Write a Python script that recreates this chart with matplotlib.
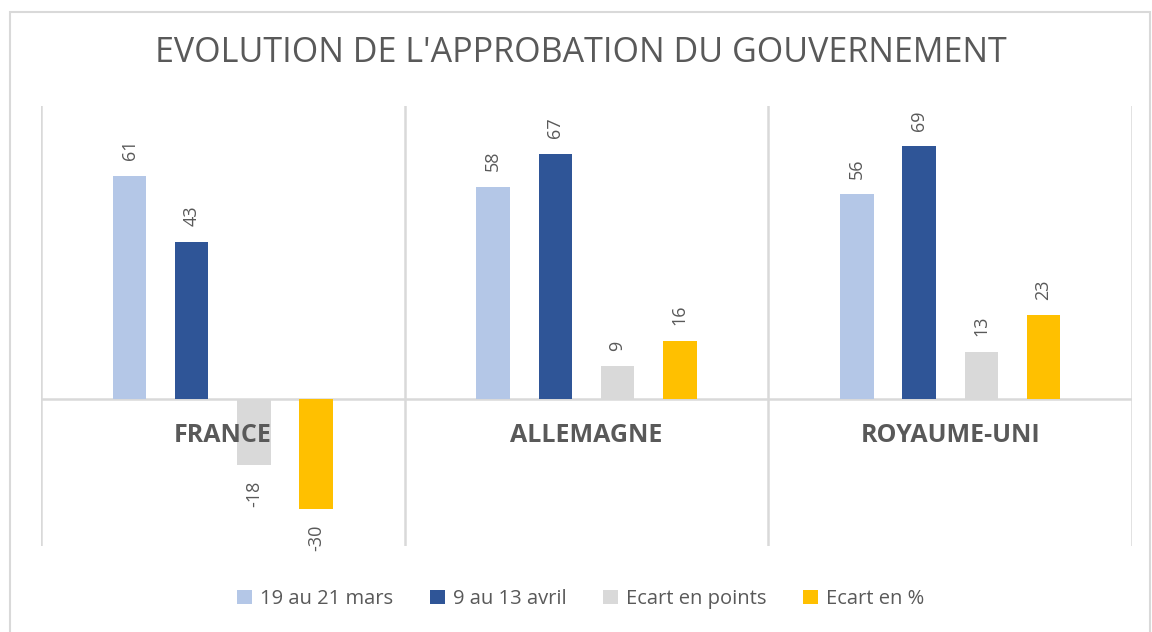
import matplotlib
matplotlib.use("Agg")
import matplotlib.pyplot as plt
from matplotlib.patches import Patch, Rectangle
import numpy as np

categories = ["FRANCE", "ALLEMAGNE", "ROYAUME-UNI"]
series_names = ["19 au 21 mars", "9 au 13 avril", "Ecart en points", "Ecart en %"]
mars = [61, 58, 56]
avril = [43, 67, 69]
ecart_points = [-18, 9, 13]
ecart_pct = [-30, 16, 23]
colors = ["#B4C7E7", "#2F5597", "#D9D9D9", "#FFC000"]
title = "EVOLUTION DE L'APPROBATION DU GOUVERNEMENT"

TXT = "#595959"
GRID = "#D9D9D9"
FONT = "Open Sans"
plt.rcParams["font.family"] = [FONT, "DejaVu Sans"]

fig = plt.figure(figsize=(11.52, 6.32), dpi=100)
fig.patch.set_facecolor("white")
# outer chart border
fig.add_artist(Rectangle((10 / 1152, -0.05), 1140 / 1152, 1 - 12 / 632 + 0.05,
                         transform=fig.transFigure, fill=False,
                         edgecolor=GRID, lw=1.5))

ax = fig.add_axes([41 / 1152, 1 - 546 / 632, 1091 / 1152, 440 / 632])
ax.set_xlim(-0.5, len(categories) - 0.5)
ax.set_ylim(-40, 80)
for s in ax.spines.values():
    s.set_visible(False)
ax.set_xticks([])
ax.set_yticks([])

series = [mars, avril, ecart_points, ecart_pct]
x = np.arange(len(categories))
width = 0.092
step = 0.171
for i, (vals, col) in enumerate(zip(series, colors)):
    pos = x + (i - 1.5) * step
    bars = ax.bar(pos, vals, width=width, color=col, zorder=3)
    for b, v in zip(bars, vals):
        cx = b.get_x() + b.get_width() / 2
        if v >= 0:
            ax.annotate(str(v), (cx, v), xytext=(0, 11), textcoords="offset points",
                        rotation=90, ha="center", va="bottom", fontsize=13,
                        color=TXT)
        else:
            ax.annotate(str(v), (cx, v), xytext=(0, -11), textcoords="offset points",
                        rotation=90, ha="center", va="top", fontsize=13,
                        color=TXT)

# zero line and category separators
ax.axhline(0, color=GRID, lw=1.8, zorder=2)
for b in np.arange(-0.5, len(categories), 1.0):
    ax.axvline(b, color=GRID, lw=1.8, zorder=1)

for xi, c in zip(x, categories):
    ax.annotate(c, (xi, 0), xytext=(0, -26), textcoords="offset points",
                ha="center", va="center", fontsize=18, fontweight="bold",
                color=TXT, zorder=4)

fig.text(0.504, 1 - 53 / 632, title, ha="center", va="center",
         fontsize=24.5, color=TXT)

handles = [Patch(facecolor=c, edgecolor="none") for c in colors]
fig.legend(handles, series_names, loc="center", bbox_to_anchor=(0.504, 1 - 599 / 632),
           ncol=4, frameon=False, fontsize=14.5, labelcolor=TXT,
           handlelength=0.75, handleheight=0.75, handletextpad=0.4,
           columnspacing=1.8)

fig.savefig("out.png", dpi=100, facecolor="white")
